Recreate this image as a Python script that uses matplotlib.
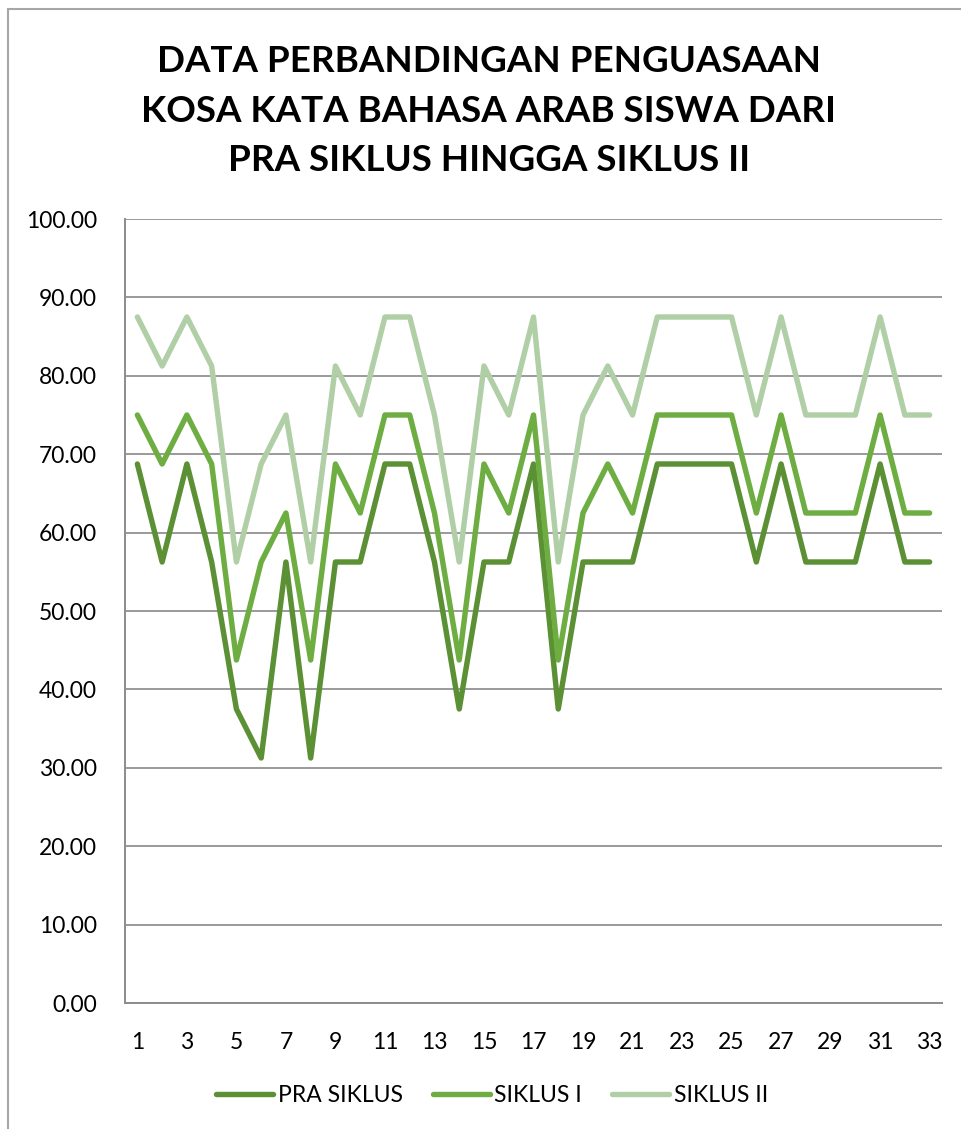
import matplotlib
matplotlib.use('Agg')
import matplotlib.pyplot as plt
from matplotlib.patches import Rectangle

plt.rcParams['font.family'] = ['Lato', 'DejaVu Sans']

siswa = list(range(1, 34))
pra_siklus = [68.75, 56.25, 68.75, 56.25, 37.5, 31.25, 56.25, 31.25, 56.25, 56.25,
              68.75, 68.75, 56.25, 37.5, 56.25, 56.25, 68.75, 37.5, 56.25, 56.25,
              56.25, 68.75, 68.75, 68.75, 68.75, 56.25, 68.75, 56.25, 56.25, 56.25,
              68.75, 56.25, 56.25]
siklus_1 = [75, 68.75, 75, 68.75, 43.75, 56.25, 62.5, 43.75, 68.75, 62.5,
            75, 75, 62.5, 43.75, 68.75, 62.5, 75, 43.75, 62.5, 68.75,
            62.5, 75, 75, 75, 75, 62.5, 75, 62.5, 62.5, 62.5,
            75, 62.5, 62.5]
siklus_2 = [87.5, 81.25, 87.5, 81.25, 56.25, 68.75, 75, 56.25, 81.25, 75,
            87.5, 87.5, 75, 56.25, 81.25, 75, 87.5, 56.25, 75, 81.25,
            75, 87.5, 87.5, 87.5, 87.5, 75, 87.5, 75, 75, 75,
            87.5, 75, 75]
nama = ['PRA SIKLUS', 'SIKLUS I', 'SIKLUS II']
warna = ['#5B9035', '#6DAD42', '#B1CFA6']
judul = 'DATA PERBANDINGAN PENGUASAAN\nKOSA KATA BAHASA ARAB SISWA DARI\nPRA SIKLUS HINGGA SIKLUS II'

fig = plt.figure(figsize=(9.62, 11.29), dpi=100)
fig.patches.append(Rectangle((8 / 962, -0.05), 1.1, 1 - 9 / 1129 + 0.05,
                             transform=fig.transFigure, fill=False,
                             edgecolor='#A6A6A6', linewidth=1.5))

ax = fig.add_axes([125 / 962, 1 - 1003 / 1129, (942 - 125) / 962, (1003 - 219) / 1129])
for data, lbl, c in zip([pra_siklus, siklus_1, siklus_2], nama, warna):
    ax.plot(siswa, data, color=c, linewidth=3.9, label=lbl,
            solid_joinstyle='round', solid_capstyle='round')

ax.set_xlim(0.5, 33.5)
ax.set_ylim(0, 100)
ax.set_yticks(range(0, 101, 10))
ax.set_yticklabels(['%.2f' % v for v in range(0, 101, 10)])
ax.set_xticks(siswa[::2])
ax.grid(axis='y', color='#9A9A9A', linewidth=1.4)
ax.set_axisbelow(True)
for s in ['top', 'right']:
    ax.spines[s].set_visible(False)
for s in ['left', 'bottom']:
    ax.spines[s].set_color('#8C8C8C')
    ax.spines[s].set_linewidth(1.4)
ax.tick_params(length=0, labelsize=16.5, colors='black')
ax.tick_params(axis='y', pad=20)
ax.tick_params(axis='x', pad=21)

fig.text(489 / 962, 1 - 111 / 1129, judul, ha='center', va='center',
         fontsize=26.5, fontweight='bold', linespacing=1.62)

fig.legend(loc='center', bbox_to_anchor=(492 / 962, 1 - 1096 / 1129), ncol=3,
           frameon=False, fontsize=16.5, handlelength=2.5, handletextpad=0.2,
           columnspacing=1.3)

fig.savefig('out.png', dpi=100)
